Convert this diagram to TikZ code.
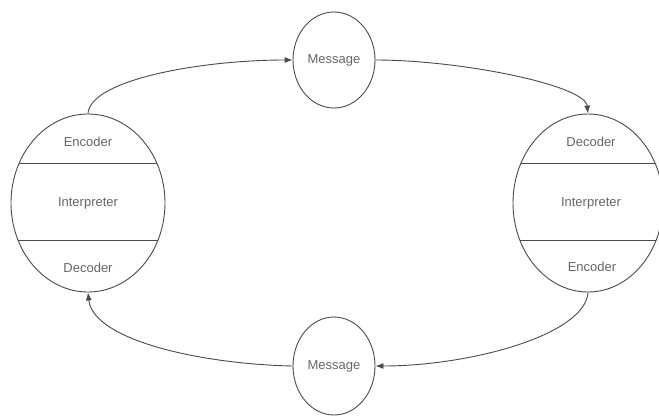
\documentclass[tikz,border=0pt]{standalone}
\usepackage{fontspec}
\setmainfont{Liberation Sans}
\usetikzlibrary{shapes.geometric,arrows.meta}
\definecolor{linegray}{HTML}{4A4A4A}
\definecolor{textgray}{HTML}{666666}
\tikzset{
  bubble/.style={draw=linegray, line width=0.9pt, ellipse, inner sep=0pt},
  lbl/.style={text=textgray, font=\fontsize{13}{15}\selectfont, inner sep=0pt},
  flow/.style={draw=linegray, line width=0.9pt, -{Latex[length=8pt,width=6pt]}},
  divider/.style={draw=linegray, line width=0.9pt}
}
\begin{document}
\begin{tikzpicture}[x=1pt,y=-1pt]
\useasboundingbox (0,0) rectangle (659,416);
\clip (0,0) rectangle (659,416);
\fill[white] (0,0) rectangle (659,416);

% left station
\node[bubble, minimum width=154pt, minimum height=178pt] (L) at (88,203) {};
\begin{scope}
  \clip (88,203) ellipse [x radius=77pt, y radius=89pt];
  \draw[divider] (0,163) -- (200,163);
  \draw[divider] (0,240) -- (200,240);
\end{scope}
\node[lbl] (Lenc) at (88,142) {Encoder};
\node[lbl] (Lint) at (88,203) {Interpreter};
\node[lbl] (Ldec) at (88,268) {Decoder};

% right station
\node[bubble, minimum width=150pt, minimum height=178pt] (R) at (588,203) {};
\begin{scope}
  \clip (588,203) ellipse [x radius=75pt, y radius=89pt];
  \draw[divider] (480,163) -- (700,163);
  \draw[divider] (480,240) -- (700,240);
\end{scope}
\node[lbl] (Rdec) at (591,142) {Decoder};
\node[lbl] (Rint) at (591,203) {Interpreter};
\node[lbl] (Renc) at (592,267) {Encoder};

% messages
\node[bubble, minimum width=82pt, minimum height=96pt] (M1) at (334,60) {};
\node[lbl] (M1t) at (334,60) {Message};
\node[bubble, minimum width=82pt, minimum height=98pt] (M2) at (334,366) {};
\node[lbl] (M2t) at (334,366) {Message};

% connectors
\draw[flow] (L.north) .. controls (90,80) and (200,60) .. (M1.west);
\draw[flow] (M1.east) .. controls (460,60) and (585,85) .. (R.north);
\draw[flow] (R.south) .. controls (585,335) and (470,366) .. (M2.east);
\draw[flow] (M2.west) .. controls (200,364) and (93,340) .. (L.south);
\end{tikzpicture}
\end{document}
